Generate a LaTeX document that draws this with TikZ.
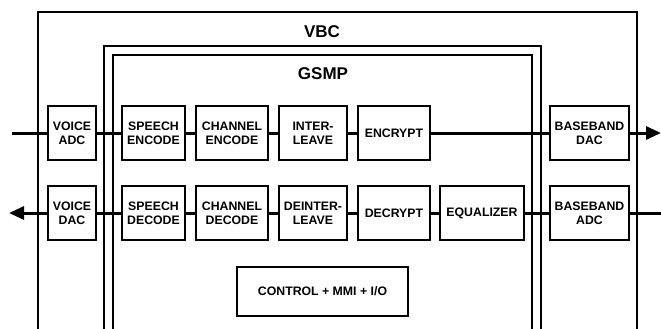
\documentclass[tikz,border=0pt]{standalone}
\usepackage{fontspec}
\setmainfont{Liberation Sans}
\usetikzlibrary{arrows.meta}

\begin{document}
\begin{tikzpicture}[x=1pt, y=-1pt,
	every node/.style={font=\bfseries\fontsize{12.3}{14}\selectfont, align=center},
	blk/.style={draw, line width=1.2pt, minimum height=54pt, inner sep=1pt},
	frame/.style={line width=1.2pt},
	sig/.style={line width=3pt},
	tip/.style={-{Triangle[length=15pt,width=13pt]}},
	title/.style={font=\bfseries\fontsize{17}{20}\selectfont}]
	\useasboundingbox (0,0) rectangle (661,329);
	% nested frames, open at the bottom
	\draw[frame] (38,329) -- (38,12) -- (637,12) -- (637,329);
	\draw[frame] (104,329) -- (104,46) -- (541,46) -- (541,329);
	\draw[frame] (113,329) -- (113,55) -- (532,55) -- (532,329);
	\node[title] (vbc) at (322,31.5) {VBC};
	\node[title] (gsmp) at (323,74) {GSMP};
	% transmit path
	\node[blk, minimum width=48pt] (vadc) at (72,133) {VOICE\\ADC};
	\node[blk, minimum width=63pt] (senc) at (153.5,133) {SPEECH\\ENCODE};
	\node[blk, minimum width=72pt] (cenc) at (232,133) {CHANNEL\\ENCODE};
	\node[blk, minimum width=68pt] (ilv) at (313,133) {INTER-\\LEAVE};
	\node[blk, minimum width=72pt] (encr) at (394,133) {ENCRYPT};
	\node[blk, minimum width=79pt] (bdac) at (589.5,133) {BASEBAND\\DAC};
	% receive path
	\node[blk, minimum width=48pt] (vdac) at (72,213) {VOICE\\DAC};
	\node[blk, minimum width=63pt] (sdec) at (153.5,213) {SPEECH\\DECODE};
	\node[blk, minimum width=72pt] (cdec) at (232,213) {CHANNEL\\DECODE};
	\node[blk, minimum width=68pt] (dilv) at (313,213) {DEINTER-\\LEAVE};
	\node[blk, minimum width=72pt] (decr) at (394,213) {DECRYPT};
	\node[blk, minimum width=84pt] (equ) at (482,213) {EQUALIZER};
	\node[blk, minimum width=79pt] (badc) at (589.5,213) {BASEBAND\\ADC};
	\node[blk, minimum width=171pt, minimum height=49pt] (ctrl) at (322.5,291.5) {CONTROL + MMI + I/O};
	% connections
	\coordinate (mic) at (12,133);
	\coordinate (txout) at (661,133);
	\coordinate (rxin) at (661,213);
	\coordinate (spk) at (9,213);
	\foreach \a/\b in {mic/vadc, vadc/senc, senc/cenc, cenc/ilv, ilv/encr, encr/bdac,
		rxin/badc, badc/equ, equ/decr, decr/dilv, dilv/cdec, cdec/sdec, sdec/vdac}
		\draw[sig] (\a) -- (\b);
	\draw[sig, tip] (bdac) -- (txout);
	\draw[sig, tip] (vdac) -- (spk);
\end{tikzpicture}
\end{document}
